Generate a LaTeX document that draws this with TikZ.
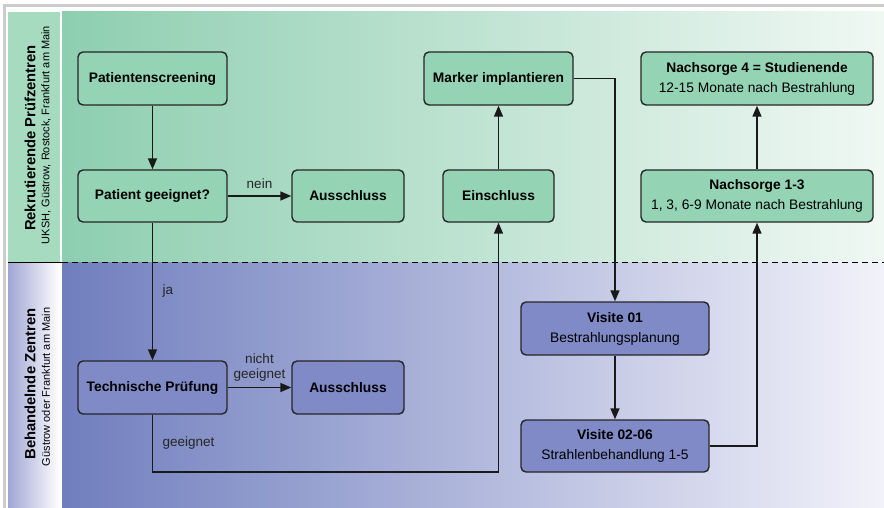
\documentclass[tikz,border=0pt]{standalone}
\usepackage{fontspec}
\setmainfont{Liberation Sans}
\usetikzlibrary{arrows.meta}

\definecolor{boxgreen}{RGB}{148,211,180}
\definecolor{boxblue}{RGB}{127,138,199}
\definecolor{bggreenL}{RGB}{142,206,176}
\definecolor{bggreenR}{RGB}{240,248,244}
\definecolor{bgblueL}{RGB}{112,126,190}
\definecolor{bgblueR}{RGB}{242,242,250}
\definecolor{sidegreen}{RGB}{166,219,192}
\definecolor{sideblue}{RGB}{160,166,212}

\tikzset{
  box/.style={draw=black!85, line width=1.4pt, rounded corners=5pt, align=center,
    font=\fontsize{13.8}{20}\selectfont\bfseries, inner sep=0pt},
  gbox/.style={box, fill=boxgreen},
  bbox/.style={box, fill=boxblue},
  flow/.style={line width=1.6pt, draw=black!90, -{Triangle[length=11pt,width=9pt]}},
  lbl/.style={font=\fontsize{13.5}{15}\selectfont, text=black!85}
}

\begin{document}
\begin{tikzpicture}[x=1pt,y=-1pt]

\useasboundingbox (0,0) rectangle (884,508);
\fill[white] (0,0) rectangle (884,508);
\draw[black!20, line width=3pt] (4,508) -- (4,6) -- (884,6);

\fill[sidegreen] (8,12) rectangle (60,262);
\shade[left color=sideblue, right color=white] (8,262) rectangle (60,508);
\shade[left color=bggreenL, right color=bggreenR] (62,12) rectangle (884,262);
\shade[left color=bgblueL, right color=bgblueR] (62,262) rectangle (884,508);

\draw[line width=1pt] (8,262) -- (62,262);
\draw[dashed, line width=1pt, dash pattern=on 6pt off 4pt] (62,262) -- (884,262);

\node[rotate=90, font=\fontsize{14.8}{16}\selectfont\bfseries] (rekr) at (30,138) {Rekrutierende Prüfzentren};
\node[rotate=90, font=\fontsize{11}{12}\selectfont] (rekrsub) at (46,135) {UKSH, Güstrow, Rostock, Frankfurt am Main};
\node[rotate=90, font=\fontsize{14.8}{16}\selectfont\bfseries] (beh) at (30,384) {Behandelnde Zentren};
\node[rotate=90, font=\fontsize{11}{12}\selectfont] (behsub) at (46,387) {Güstrow oder Frankfurt am Main};

\node[gbox, minimum width=149pt, minimum height=53pt] (screen) at (152.5,78.5) {Patientenscreening};
\node[gbox, minimum width=149pt, minimum height=52pt] (check) at (152.5,196) {Patient geeignet?};
\node[gbox, minimum width=112pt, minimum height=52pt] (out1) at (348,196) {Ausschluss};
\node[gbox, minimum width=111pt, minimum height=52pt] (in) at (498.5,196) {Einschluss};
\node[gbox, minimum width=149pt, minimum height=53pt] (marker) at (498.5,78.5) {Marker implantieren};
\node[gbox, minimum width=232pt, minimum height=53pt] (ns4) at (757,78.5) {Nachsorge 4 = Studienende\\\mdseries 12-15 Monate nach Bestrahlung};
\node[gbox, minimum width=232pt, minimum height=52pt] (ns13) at (757,196) {Nachsorge 1-3\\\mdseries 1, 3, 6-9 Monate nach Bestrahlung};
\node[bbox, minimum width=149pt, minimum height=53pt] (tech) at (152.5,387.5) {Technische Prüfung};
\node[bbox, minimum width=112pt, minimum height=53pt] (out2) at (348,387.5) {Ausschluss};
\node[bbox, minimum width=188pt, minimum height=53pt] (v1) at (615,328.5) {Visite 01\\\mdseries Bestrahlungsplanung};
\node[bbox, minimum width=188pt, minimum height=52pt] (v2) at (615,446) {Visite 02-06\\\mdseries Strahlenbehandlung 1-5};

\draw[flow] (screen) -- (check);
\draw[flow] (check) -- node[above=3pt, lbl] {nein} (out1);
\draw[flow] (check) -- node[right=6pt, lbl] {ja} (tech);
\draw[flow] (tech) -- node[above=2pt, lbl, align=center] {nicht\\geeignet} (out2);
\draw[flow] (tech.south) -- node[right=6pt, lbl] {geeignet} ++(0,57) -| (in.south);
\draw[flow] (in) -- (marker);
\draw[flow] (marker.east) -| (v1.north);
\draw[flow] (v1) -- (v2);
\draw[flow] (v2.east) -| (ns13.south);
\draw[flow] (ns13) -- (ns4);

\end{tikzpicture}
\end{document}
